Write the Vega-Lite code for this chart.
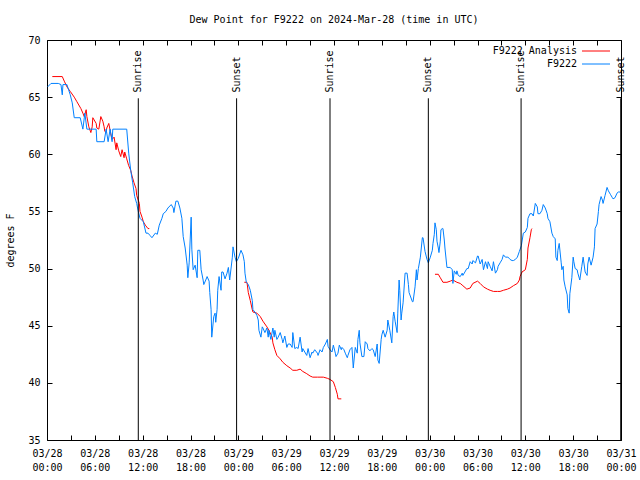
{
  "$schema": "https://vega.github.io/schema/vega-lite/v6.json",
  "width": 574,
  "height": 400,
  "autosize": "none",
  "padding": {"left": 47, "top": 40, "right": 19, "bottom": 40},
  "background": "white",
  "title": {"text": "Dew Point for F9222 on 2024-Mar-28 (time in UTC)", "font": "DejaVu Sans Mono", "fontSize": 10, "fontWeight": "normal", "color": "black", "offset": 10, "anchor": "middle"},
  "config": {
    "view": {"stroke": "black", "strokeWidth": 1},
    "axis": {"labelFont": "DejaVu Sans Mono", "labelFontSize": 10, "labelColor": "black", "titleFont": "DejaVu Sans Mono", "titleFontSize": 10, "titleFontWeight": "normal", "titleColor": "black", "grid": false, "domain": false, "tickColor": "black", "tickWidth": 1},
    "legend": {"labelFont": "DejaVu Sans Mono", "labelFontSize": 10, "labelColor": "black"}
  },
  "resolve": {"axis": {"x": "independent", "y": "independent"}},
  "datasets": {
    "blue": [
      {"t":"2024-03-28T00:05:00Z","v":65.9},{"t":"2024-03-28T00:30:00Z","v":66.2},{"t":"2024-03-28T01:25:00Z","v":66.2},{"t":"2024-03-28T01:45:00Z","v":66.1},{"t":"2024-03-28T01:55:00Z","v":65.2},{"t":"2024-03-28T02:00:00Z","v":66.1},{"t":"2024-03-28T02:30:00Z","v":66.1},{"t":"2024-03-28T02:55:00Z","v":65.2},{"t":"2024-03-28T03:10:00Z","v":64.5},{"t":"2024-03-28T03:25:00Z","v":63.2},{"t":"2024-03-28T04:10:00Z","v":63.2},{"t":"2024-03-28T04:30:00Z","v":62.2},{"t":"2024-03-28T04:45:00Z","v":63.6},{"t":"2024-03-28T05:00:00Z","v":62.2},{"t":"2024-03-28T06:10:00Z","v":62.2},{"t":"2024-03-28T06:15:00Z","v":61.1},{"t":"2024-03-28T07:10:00Z","v":61.1},{"t":"2024-03-28T07:25:00Z","v":62.2},{"t":"2024-03-28T07:40:00Z","v":61.1},{"t":"2024-03-28T07:55:00Z","v":62.2},{"t":"2024-03-28T08:10:00Z","v":61.1},{"t":"2024-03-28T08:15:00Z","v":62.2},{"t":"2024-03-28T10:00:00Z","v":62.2},{"t":"2024-03-28T10:15:00Z","v":60.1},{"t":"2024-03-28T10:30:00Z","v":58.6},{"t":"2024-03-28T10:45:00Z","v":57.5},{"t":"2024-03-28T11:00:00Z","v":56.3},{"t":"2024-03-28T11:15:00Z","v":55.7},{"t":"2024-03-28T11:25:00Z","v":55.1},{"t":"2024-03-28T11:40:00Z","v":54.4},{"t":"2024-03-28T12:05:00Z","v":54.1},{"t":"2024-03-28T12:25:00Z","v":53.1},{"t":"2024-03-28T12:40:00Z","v":53.1},{"t":"2024-03-28T12:55:00Z","v":52.9},{"t":"2024-03-28T13:10:00Z","v":52.7},{"t":"2024-03-28T13:35:00Z","v":53.1},{"t":"2024-03-28T13:50:00Z","v":53.0},{"t":"2024-03-28T14:05:00Z","v":53.8},{"t":"2024-03-28T14:25:00Z","v":54.4},{"t":"2024-03-28T14:35:00Z","v":54.8},{"t":"2024-03-28T14:55:00Z","v":55.0},{"t":"2024-03-28T15:10:00Z","v":55.3},{"t":"2024-03-28T15:35:00Z","v":55.6},{"t":"2024-03-28T15:50:00Z","v":55.3},{"t":"2024-03-28T15:55:00Z","v":54.9},{"t":"2024-03-28T16:10:00Z","v":55.9},{"t":"2024-03-28T16:25:00Z","v":55.9},{"t":"2024-03-28T16:40:00Z","v":55.3},{"t":"2024-03-28T16:55:00Z","v":54.4},{"t":"2024-03-28T17:05:00Z","v":52.8},{"t":"2024-03-28T17:20:00Z","v":51.8},{"t":"2024-03-28T17:35:00Z","v":50.3},{"t":"2024-03-28T17:40:00Z","v":49.2},{"t":"2024-03-28T17:50:00Z","v":50.5},{"t":"2024-03-28T18:05:00Z","v":54.5},{"t":"2024-03-28T18:10:00Z","v":51.7},{"t":"2024-03-28T18:20:00Z","v":49.9},{"t":"2024-03-28T18:35:00Z","v":50.3},{"t":"2024-03-28T18:50:00Z","v":49.2},{"t":"2024-03-28T18:55:00Z","v":51.6},{"t":"2024-03-28T19:10:00Z","v":51.6},{"t":"2024-03-28T19:20:00Z","v":49.9},{"t":"2024-03-28T19:35:00Z","v":49.0},{"t":"2024-03-28T19:40:00Z","v":48.6},{"t":"2024-03-28T19:55:00Z","v":49.0},{"t":"2024-03-28T20:05:00Z","v":49.3},{"t":"2024-03-28T20:20:00Z","v":48.9},{"t":"2024-03-28T20:25:00Z","v":47.9},{"t":"2024-03-28T20:35:00Z","v":46.4},{"t":"2024-03-28T20:40:00Z","v":44.0},{"t":"2024-03-28T20:55:00Z","v":45.8},{"t":"2024-03-28T21:05:00Z","v":46.1},{"t":"2024-03-28T21:10:00Z","v":45.3},{"t":"2024-03-28T21:20:00Z","v":46.4},{"t":"2024-03-28T21:25:00Z","v":48.1},{"t":"2024-03-28T21:35:00Z","v":49.3},{"t":"2024-03-28T21:50:00Z","v":48.1},{"t":"2024-03-28T21:55:00Z","v":49.7},{"t":"2024-03-28T22:05:00Z","v":49.7},{"t":"2024-03-28T22:20:00Z","v":49.1},{"t":"2024-03-28T22:35:00Z","v":49.6},{"t":"2024-03-28T22:45:00Z","v":50.1},{"t":"2024-03-28T22:55:00Z","v":49.0},{"t":"2024-03-28T23:15:00Z","v":51.0},{"t":"2024-03-28T23:20:00Z","v":51.9},{"t":"2024-03-28T23:35:00Z","v":51.0},{"t":"2024-03-28T23:45:00Z","v":50.6},
      {"t":"2024-03-29T00:00:00Z","v":50.9},{"t":"2024-03-29T00:20:00Z","v":51.6},{"t":"2024-03-29T00:35:00Z","v":51.2},{"t":"2024-03-29T00:45:00Z","v":50.6},{"t":"2024-03-29T00:50:00Z","v":49.6},{"t":"2024-03-29T01:00:00Z","v":48.8},{"t":"2024-03-29T01:15:00Z","v":48.6},{"t":"2024-03-29T01:30:00Z","v":48.1},{"t":"2024-03-29T01:45:00Z","v":47.2},{"t":"2024-03-29T01:50:00Z","v":46.4},{"t":"2024-03-29T02:05:00Z","v":46.2},{"t":"2024-03-29T02:20:00Z","v":45.9},{"t":"2024-03-29T02:30:00Z","v":45.5},{"t":"2024-03-29T02:35:00Z","v":44.6},{"t":"2024-03-29T02:50:00Z","v":44.0},{"t":"2024-03-29T03:00:00Z","v":44.9},{"t":"2024-03-29T03:05:00Z","v":44.8},{"t":"2024-03-29T03:20:00Z","v":44.4},{"t":"2024-03-29T03:35:00Z","v":44.8},{"t":"2024-03-29T03:45:00Z","v":44.0},{"t":"2024-03-29T03:50:00Z","v":44.6},{"t":"2024-03-29T04:05:00Z","v":43.8},{"t":"2024-03-29T04:20:00Z","v":44.8},{"t":"2024-03-29T04:30:00Z","v":44.0},{"t":"2024-03-29T04:35:00Z","v":44.6},{"t":"2024-03-29T04:50:00Z","v":43.8},{"t":"2024-03-29T05:00:00Z","v":44.0},{"t":"2024-03-29T05:15:00Z","v":44.4},{"t":"2024-03-29T05:30:00Z","v":43.8},{"t":"2024-03-29T05:35:00Z","v":43.5},{"t":"2024-03-29T05:50:00Z","v":44.1},{"t":"2024-03-29T06:05:00Z","v":43.1},{"t":"2024-03-29T06:15:00Z","v":43.4},{"t":"2024-03-29T06:30:00Z","v":43.4},{"t":"2024-03-29T06:45:00Z","v":43.1},{"t":"2024-03-29T06:50:00Z","v":44.4},{"t":"2024-03-29T07:05:00Z","v":43.0},{"t":"2024-03-29T07:20:00Z","v":43.1},{"t":"2024-03-29T07:30:00Z","v":43.0},{"t":"2024-03-29T07:45:00Z","v":44.0},{"t":"2024-03-29T08:00:00Z","v":42.7},{"t":"2024-03-29T08:05:00Z","v":43.0},{"t":"2024-03-29T08:20:00Z","v":42.7},{"t":"2024-03-29T08:35:00Z","v":42.4},{"t":"2024-03-29T08:45:00Z","v":43.0},{"t":"2024-03-29T09:00:00Z","v":42.2},{"t":"2024-03-29T09:15:00Z","v":42.7},{"t":"2024-03-29T09:20:00Z","v":42.6},{"t":"2024-03-29T09:35:00Z","v":42.9},{"t":"2024-03-29T09:55:00Z","v":42.6},{"t":"2024-03-29T10:00:00Z","v":42.4},{"t":"2024-03-29T10:15:00Z","v":42.9},{"t":"2024-03-29T10:30:00Z","v":42.7},{"t":"2024-03-29T10:40:00Z","v":43.1},{"t":"2024-03-29T10:55:00Z","v":43.4},{"t":"2024-03-29T11:10:00Z","v":43.8},{"t":"2024-03-29T11:15:00Z","v":43.2},{"t":"2024-03-29T11:30:00Z","v":42.9},{"t":"2024-03-29T11:45:00Z","v":42.7},{"t":"2024-03-29T11:55:00Z","v":43.3},{"t":"2024-03-29T12:10:00Z","v":42.6},{"t":"2024-03-29T12:15:00Z","v":42.3},{"t":"2024-03-29T12:30:00Z","v":42.6},{"t":"2024-03-29T12:40:00Z","v":43.3},{"t":"2024-03-29T12:55:00Z","v":42.9},{"t":"2024-03-29T13:00:00Z","v":43.1},{"t":"2024-03-29T13:15:00Z","v":42.9},{"t":"2024-03-29T13:25:00Z","v":42.6},{"t":"2024-03-29T13:40:00Z","v":42.2},{"t":"2024-03-29T13:45:00Z","v":42.4},{"t":"2024-03-29T14:00:00Z","v":42.9},{"t":"2024-03-29T14:15:00Z","v":43.1},{"t":"2024-03-29T14:25:00Z","v":41.3},{"t":"2024-03-29T14:40:00Z","v":43.1},{"t":"2024-03-29T14:55:00Z","v":42.6},{"t":"2024-03-29T15:00:00Z","v":43.8},{"t":"2024-03-29T15:10:00Z","v":44.6},{"t":"2024-03-29T15:15:00Z","v":43.5},{"t":"2024-03-29T15:30:00Z","v":42.3},{"t":"2024-03-29T15:45:00Z","v":42.3},{"t":"2024-03-29T15:55:00Z","v":43.6},{"t":"2024-03-29T16:10:00Z","v":43.4},{"t":"2024-03-29T16:15:00Z","v":43.0},{"t":"2024-03-29T16:30:00Z","v":42.8},{"t":"2024-03-29T16:45:00Z","v":43.0},{"t":"2024-03-29T16:55:00Z","v":42.9},{"t":"2024-03-29T17:10:00Z","v":42.3},{"t":"2024-03-29T17:25:00Z","v":43.4},{"t":"2024-03-29T17:30:00Z","v":42.0},{"t":"2024-03-29T17:40:00Z","v":41.7},{"t":"2024-03-29T17:55:00Z","v":43.8},{"t":"2024-03-29T18:00:00Z","v":44.2},{"t":"2024-03-29T18:10:00Z","v":44.6},{"t":"2024-03-29T18:25:00Z","v":44.0},{"t":"2024-03-29T18:40:00Z","v":44.6},{"t":"2024-03-29T18:45:00Z","v":45.5},{"t":"2024-03-29T19:00:00Z","v":44.6},{"t":"2024-03-29T19:15:00Z","v":43.5},{"t":"2024-03-29T19:25:00Z","v":45.8},{"t":"2024-03-29T19:30:00Z","v":46.2},{"t":"2024-03-29T19:40:00Z","v":45.4},{"t":"2024-03-29T19:55:00Z","v":44.4},{"t":"2024-03-29T20:00:00Z","v":46.1},{"t":"2024-03-29T20:10:00Z","v":49.0},{"t":"2024-03-29T20:15:00Z","v":48.1},{"t":"2024-03-29T20:25:00Z","v":45.5},{"t":"2024-03-29T20:30:00Z","v":46.1},{"t":"2024-03-29T20:40:00Z","v":47.0},{"t":"2024-03-29T20:55:00Z","v":49.6},{"t":"2024-03-29T21:10:00Z","v":49.6},{"t":"2024-03-29T21:20:00Z","v":48.6},{"t":"2024-03-29T21:25:00Z","v":47.9},{"t":"2024-03-29T21:50:00Z","v":47.1},{"t":"2024-03-29T21:55:00Z","v":47.1},{"t":"2024-03-29T22:10:00Z","v":48.4},{"t":"2024-03-29T22:20:00Z","v":49.9},{"t":"2024-03-29T22:25:00Z","v":49.0},{"t":"2024-03-29T22:35:00Z","v":50.0},{"t":"2024-03-29T22:50:00Z","v":51.0},{"t":"2024-03-29T23:05:00Z","v":52.7},{"t":"2024-03-29T23:10:00Z","v":52.7},{"t":"2024-03-29T23:25:00Z","v":51.5},{"t":"2024-03-29T23:40:00Z","v":50.8},{"t":"2024-03-29T23:50:00Z","v":50.5},
      {"t":"2024-03-30T00:05:00Z","v":51.0},{"t":"2024-03-30T00:20:00Z","v":51.6},{"t":"2024-03-30T00:25:00Z","v":52.2},{"t":"2024-03-30T00:35:00Z","v":53.0},{"t":"2024-03-30T00:40:00Z","v":54.0},{"t":"2024-03-30T00:50:00Z","v":53.4},{"t":"2024-03-30T00:55:00Z","v":52.4},{"t":"2024-03-30T01:05:00Z","v":51.8},{"t":"2024-03-30T01:10:00Z","v":51.4},{"t":"2024-03-30T01:20:00Z","v":52.4},{"t":"2024-03-30T01:25:00Z","v":53.4},{"t":"2024-03-30T01:35:00Z","v":53.5},{"t":"2024-03-30T01:40:00Z","v":53.5},{"t":"2024-03-30T01:50:00Z","v":52.5},{"t":"2024-03-30T01:55:00Z","v":51.8},{"t":"2024-03-30T02:10:00Z","v":50.1},{"t":"2024-03-30T02:35:00Z","v":50.1},{"t":"2024-03-30T02:50:00Z","v":49.9},{"t":"2024-03-30T02:55:00Z","v":48.7},{"t":"2024-03-30T03:05:00Z","v":49.8},{"t":"2024-03-30T03:20:00Z","v":49.5},{"t":"2024-03-30T03:25:00Z","v":49.8},{"t":"2024-03-30T03:35:00Z","v":49.4},{"t":"2024-03-30T03:50:00Z","v":49.3},{"t":"2024-03-30T04:05:00Z","v":49.6},{"t":"2024-03-30T04:10:00Z","v":49.4},{"t":"2024-03-30T04:25:00Z","v":49.7},{"t":"2024-03-30T04:40:00Z","v":50.0},{"t":"2024-03-30T04:50:00Z","v":50.0},{"t":"2024-03-30T05:05:00Z","v":50.6},{"t":"2024-03-30T05:20:00Z","v":50.4},{"t":"2024-03-30T05:25:00Z","v":50.7},{"t":"2024-03-30T05:45:00Z","v":50.5},{"t":"2024-03-30T06:00:00Z","v":51.1},{"t":"2024-03-30T06:05:00Z","v":51.1},{"t":"2024-03-30T06:20:00Z","v":50.4},{"t":"2024-03-30T06:35:00Z","v":50.8},{"t":"2024-03-30T06:45:00Z","v":49.9},{"t":"2024-03-30T07:00:00Z","v":50.6},{"t":"2024-03-30T07:15:00Z","v":50.0},{"t":"2024-03-30T07:20:00Z","v":50.6},{"t":"2024-03-30T07:35:00Z","v":50.2},{"t":"2024-03-30T07:50:00Z","v":49.8},{"t":"2024-03-30T08:00:00Z","v":50.6},{"t":"2024-03-30T08:15:00Z","v":49.6},{"t":"2024-03-30T08:30:00Z","v":49.9},{"t":"2024-03-30T08:35:00Z","v":50.2},{"t":"2024-03-30T08:50:00Z","v":50.5},{"t":"2024-03-30T09:05:00Z","v":50.8},{"t":"2024-03-30T09:15:00Z","v":51.2},{"t":"2024-03-30T09:30:00Z","v":51.0},{"t":"2024-03-30T09:45:00Z","v":51.0},{"t":"2024-03-30T09:50:00Z","v":51.0},{"t":"2024-03-30T10:05:00Z","v":50.8},{"t":"2024-03-30T10:20:00Z","v":50.7},{"t":"2024-03-30T10:30:00Z","v":50.7},{"t":"2024-03-30T10:45:00Z","v":50.8},{"t":"2024-03-30T11:00:00Z","v":51.0},{"t":"2024-03-30T11:15:00Z","v":51.5},{"t":"2024-03-30T11:30:00Z","v":52.0},{"t":"2024-03-30T11:45:00Z","v":53.1},{"t":"2024-03-30T12:00:00Z","v":53.2},{"t":"2024-03-30T12:15:00Z","v":53.6},{"t":"2024-03-30T12:20:00Z","v":54.4},{"t":"2024-03-30T12:35:00Z","v":54.8},{"t":"2024-03-30T12:50:00Z","v":54.8},{"t":"2024-03-30T13:00:00Z","v":54.6},{"t":"2024-03-30T13:15:00Z","v":55.7},{"t":"2024-03-30T13:30:00Z","v":55.4},{"t":"2024-03-30T13:35:00Z","v":54.8},{"t":"2024-03-30T13:50:00Z","v":54.8},{"t":"2024-03-30T14:05:00Z","v":55.1},{"t":"2024-03-30T14:15:00Z","v":55.6},{"t":"2024-03-30T14:30:00Z","v":55.3},{"t":"2024-03-30T14:45:00Z","v":54.8},{"t":"2024-03-30T14:50:00Z","v":54.4},{"t":"2024-03-30T15:05:00Z","v":54.1},{"t":"2024-03-30T15:20:00Z","v":53.1},{"t":"2024-03-30T15:30:00Z","v":52.8},{"t":"2024-03-30T15:45:00Z","v":52.6},{"t":"2024-03-30T15:50:00Z","v":51.0},{"t":"2024-03-30T16:00:00Z","v":50.7},{"t":"2024-03-30T16:05:00Z","v":51.6},{"t":"2024-03-30T16:15:00Z","v":52.2},{"t":"2024-03-30T16:30:00Z","v":50.5},{"t":"2024-03-30T16:35:00Z","v":49.9},{"t":"2024-03-30T16:45:00Z","v":50.2},{"t":"2024-03-30T16:50:00Z","v":49.0},{"t":"2024-03-30T17:00:00Z","v":48.4},{"t":"2024-03-30T17:15:00Z","v":47.7},{"t":"2024-03-30T17:20:00Z","v":46.5},{"t":"2024-03-30T17:30:00Z","v":46.1},{"t":"2024-03-30T17:35:00Z","v":47.8},{"t":"2024-03-30T17:50:00Z","v":49.2},{"t":"2024-03-30T18:00:00Z","v":51.0},{"t":"2024-03-30T18:05:00Z","v":50.6},{"t":"2024-03-30T18:15:00Z","v":50.0},{"t":"2024-03-30T18:30:00Z","v":49.9},{"t":"2024-03-30T18:35:00Z","v":49.6},{"t":"2024-03-30T18:50:00Z","v":49.0},{"t":"2024-03-30T19:05:00Z","v":50.2},{"t":"2024-03-30T19:15:00Z","v":51.0},{"t":"2024-03-30T19:30:00Z","v":49.7},{"t":"2024-03-30T19:45:00Z","v":49.4},{"t":"2024-03-30T19:50:00Z","v":50.4},{"t":"2024-03-30T20:00:00Z","v":51.0},{"t":"2024-03-30T20:15:00Z","v":50.3},{"t":"2024-03-30T20:30:00Z","v":51.0},{"t":"2024-03-30T20:40:00Z","v":51.9},{"t":"2024-03-30T20:45:00Z","v":53.5},{"t":"2024-03-30T21:00:00Z","v":53.9},{"t":"2024-03-30T21:10:00Z","v":55.0},{"t":"2024-03-30T21:15:00Z","v":55.6},{"t":"2024-03-30T21:30:00Z","v":56.3},{"t":"2024-03-30T21:40:00Z","v":56.0},{"t":"2024-03-30T21:45:00Z","v":55.7},{"t":"2024-03-30T22:00:00Z","v":56.4},{"t":"2024-03-30T22:15:00Z","v":57.1},{"t":"2024-03-30T22:25:00Z","v":56.8},{"t":"2024-03-30T22:40:00Z","v":56.5},{"t":"2024-03-30T22:55:00Z","v":56.2},{"t":"2024-03-30T23:00:00Z","v":56.1},{"t":"2024-03-30T23:15:00Z","v":56.2},{"t":"2024-03-30T23:30:00Z","v":56.6},{"t":"2024-03-30T23:40:00Z","v":56.7},{"t":"2024-03-30T23:55:00Z","v":56.7}
    ],
    "red": [
      {"g":1,"t":"2024-03-28T00:40:00Z","v":66.8},{"g":1,"t":"2024-03-28T01:55:00Z","v":66.8},{"g":1,"t":"2024-03-28T02:10:00Z","v":66.4},{"g":1,"t":"2024-03-28T02:30:00Z","v":65.9},{"g":1,"t":"2024-03-28T02:55:00Z","v":65.5},{"g":1,"t":"2024-03-28T03:25:00Z","v":65.0},{"g":1,"t":"2024-03-28T03:45:00Z","v":64.6},{"g":1,"t":"2024-03-28T04:15:00Z","v":64.0},{"g":1,"t":"2024-03-28T04:30:00Z","v":63.6},{"g":1,"t":"2024-03-28T04:40:00Z","v":63.3},{"g":1,"t":"2024-03-28T04:55:00Z","v":63.9},{"g":1,"t":"2024-03-28T05:00:00Z","v":63.3},{"g":1,"t":"2024-03-28T05:15:00Z","v":62.4},{"g":1,"t":"2024-03-28T05:30:00Z","v":61.9},{"g":1,"t":"2024-03-28T05:40:00Z","v":62.4},{"g":1,"t":"2024-03-28T05:45:00Z","v":63.2},{"g":1,"t":"2024-03-28T06:10:00Z","v":62.7},{"g":1,"t":"2024-03-28T06:15:00Z","v":62.3},{"g":1,"t":"2024-03-28T06:30:00Z","v":62.2},{"g":1,"t":"2024-03-28T06:45:00Z","v":63.3},{"g":1,"t":"2024-03-28T07:00:00Z","v":62.9},{"g":1,"t":"2024-03-28T07:10:00Z","v":62.4},{"g":1,"t":"2024-03-28T07:15:00Z","v":62.0},{"g":1,"t":"2024-03-28T07:25:00Z","v":61.9},{"g":1,"t":"2024-03-28T07:30:00Z","v":62.3},{"g":1,"t":"2024-03-28T07:45:00Z","v":62.7},{"g":1,"t":"2024-03-28T08:00:00Z","v":61.8},{"g":1,"t":"2024-03-28T08:10:00Z","v":61.3},{"g":1,"t":"2024-03-28T08:25:00Z","v":61.5},{"g":1,"t":"2024-03-28T08:40:00Z","v":60.4},{"g":1,"t":"2024-03-28T08:45:00Z","v":61.0},{"g":1,"t":"2024-03-28T09:00:00Z","v":60.3},{"g":1,"t":"2024-03-28T09:15:00Z","v":59.8},{"g":1,"t":"2024-03-28T09:25:00Z","v":60.4},{"g":1,"t":"2024-03-28T09:40:00Z","v":59.7},{"g":1,"t":"2024-03-28T09:45:00Z","v":60.2},{"g":1,"t":"2024-03-28T10:00:00Z","v":59.6},{"g":1,"t":"2024-03-28T10:15:00Z","v":59.0},{"g":1,"t":"2024-03-28T10:30:00Z","v":58.6},{"g":1,"t":"2024-03-28T10:40:00Z","v":58.1},{"g":1,"t":"2024-03-28T10:55:00Z","v":57.5},{"g":1,"t":"2024-03-28T11:10:00Z","v":57.0},{"g":1,"t":"2024-03-28T11:15:00Z","v":56.4},{"g":1,"t":"2024-03-28T11:35:00Z","v":55.7},{"g":1,"t":"2024-03-28T11:40:00Z","v":55.0},{"g":1,"t":"2024-03-28T11:55:00Z","v":54.5},{"g":1,"t":"2024-03-28T12:05:00Z","v":54.1},{"g":1,"t":"2024-03-28T12:20:00Z","v":53.8},{"g":1,"t":"2024-03-28T12:40:00Z","v":53.5},{"g":1,"t":"2024-03-28T12:50:00Z","v":53.5},
      {"g":2,"t":"2024-03-29T00:45:00Z","v":48.8},{"g":2,"t":"2024-03-29T01:05:00Z","v":48.8},{"g":2,"t":"2024-03-29T01:15:00Z","v":47.9},{"g":2,"t":"2024-03-29T01:30:00Z","v":47.2},{"g":2,"t":"2024-03-29T01:45:00Z","v":46.4},{"g":2,"t":"2024-03-29T01:50:00Z","v":46.2},{"g":2,"t":"2024-03-29T02:20:00Z","v":46.1},{"g":2,"t":"2024-03-29T02:45:00Z","v":45.8},{"g":2,"t":"2024-03-29T03:05:00Z","v":45.4},{"g":2,"t":"2024-03-29T03:35:00Z","v":44.9},{"g":2,"t":"2024-03-29T03:50:00Z","v":44.6},{"g":2,"t":"2024-03-29T04:15:00Z","v":44.0},{"g":2,"t":"2024-03-29T04:20:00Z","v":43.5},{"g":2,"t":"2024-03-29T04:35:00Z","v":42.9},{"g":2,"t":"2024-03-29T04:50:00Z","v":42.4},{"g":2,"t":"2024-03-29T05:15:00Z","v":42.1},{"g":2,"t":"2024-03-29T05:35:00Z","v":41.8},{"g":2,"t":"2024-03-29T06:05:00Z","v":41.5},{"g":2,"t":"2024-03-29T06:30:00Z","v":41.3},{"g":2,"t":"2024-03-29T06:50:00Z","v":41.1},{"g":2,"t":"2024-03-29T07:20:00Z","v":41.1},{"g":2,"t":"2024-03-29T07:45:00Z","v":41.2},{"g":2,"t":"2024-03-29T08:05:00Z","v":41.0},{"g":2,"t":"2024-03-29T08:35:00Z","v":40.8},{"g":2,"t":"2024-03-29T09:00:00Z","v":40.6},{"g":2,"t":"2024-03-29T09:20:00Z","v":40.5},{"g":2,"t":"2024-03-29T09:55:00Z","v":40.5},{"g":2,"t":"2024-03-29T10:15:00Z","v":40.5},{"g":2,"t":"2024-03-29T10:40:00Z","v":40.5},{"g":2,"t":"2024-03-29T11:10:00Z","v":40.4},{"g":2,"t":"2024-03-29T11:30:00Z","v":40.3},{"g":2,"t":"2024-03-29T11:55:00Z","v":40.1},{"g":2,"t":"2024-03-29T12:10:00Z","v":39.6},{"g":2,"t":"2024-03-29T12:25:00Z","v":39.0},{"g":2,"t":"2024-03-29T12:30:00Z","v":38.6},{"g":2,"t":"2024-03-29T12:55:00Z","v":38.6},
      {"g":3,"t":"2024-03-30T00:40:00Z","v":49.5},{"g":3,"t":"2024-03-30T01:05:00Z","v":49.5},{"g":3,"t":"2024-03-30T01:20:00Z","v":49.2},{"g":3,"t":"2024-03-30T01:40:00Z","v":48.8},{"g":3,"t":"2024-03-30T02:10:00Z","v":48.8},{"g":3,"t":"2024-03-30T02:35:00Z","v":48.9},{"g":3,"t":"2024-03-30T02:55:00Z","v":49.0},{"g":3,"t":"2024-03-30T03:25:00Z","v":48.8},{"g":3,"t":"2024-03-30T03:50:00Z","v":48.7},{"g":3,"t":"2024-03-30T04:10:00Z","v":48.5},{"g":3,"t":"2024-03-30T04:40:00Z","v":48.2},{"g":3,"t":"2024-03-30T05:05:00Z","v":48.3},{"g":3,"t":"2024-03-30T05:25:00Z","v":48.7},{"g":3,"t":"2024-03-30T06:00:00Z","v":48.9},{"g":3,"t":"2024-03-30T06:20:00Z","v":48.7},{"g":3,"t":"2024-03-30T06:45:00Z","v":48.4},{"g":3,"t":"2024-03-30T07:15:00Z","v":48.2},{"g":3,"t":"2024-03-30T07:35:00Z","v":48.1},{"g":3,"t":"2024-03-30T08:00:00Z","v":48.0},{"g":3,"t":"2024-03-30T08:30:00Z","v":48.0},{"g":3,"t":"2024-03-30T08:50:00Z","v":48.0},{"g":3,"t":"2024-03-30T09:15:00Z","v":48.1},{"g":3,"t":"2024-03-30T09:45:00Z","v":48.2},{"g":3,"t":"2024-03-30T10:05:00Z","v":48.3},{"g":3,"t":"2024-03-30T10:30:00Z","v":48.5},{"g":3,"t":"2024-03-30T11:00:00Z","v":48.7},{"g":3,"t":"2024-03-30T11:15:00Z","v":49.0},{"g":3,"t":"2024-03-30T11:20:00Z","v":49.3},{"g":3,"t":"2024-03-30T11:35:00Z","v":49.7},{"g":3,"t":"2024-03-30T12:00:00Z","v":49.9},{"g":3,"t":"2024-03-30T12:15:00Z","v":50.8},{"g":3,"t":"2024-03-30T12:20:00Z","v":51.8},{"g":3,"t":"2024-03-30T12:35:00Z","v":52.7},{"g":3,"t":"2024-03-30T12:45:00Z","v":53.4},{"g":3,"t":"2024-03-30T12:50:00Z","v":53.5}
    ],
    "sun": [
      {"t":"2024-03-28T11:27:00Z","e":"Sunrise"},{"t":"2024-03-28T23:47:00Z","e":"Sunset"},{"t":"2024-03-29T11:30:00Z","e":"Sunrise"},{"t":"2024-03-29T23:50:00Z","e":"Sunset"},{"t":"2024-03-30T11:28:00Z","e":"Sunrise"},{"t":"2024-03-30T23:58:00Z","e":"Sunset"}
    ]
  },
  "layer": [
    {
      "data": {"name": "red"},
      "mark": {"type": "line", "strokeWidth": 1},
      "encoding": {
        "x": {"field": "t", "type": "temporal",
          "scale": {"type": "utc", "domain": [1711584000000, 1711843200000]},
          "axis": {"orient": "bottom", "title": null, "tickCount": 24, "tickSize": 5, "offset": -5, "labelPadding": 8, "labelOverlap": false, "labelFlush": false, "labelBound": false, "labelLineHeight": 14,
            "labelExpr": "utchours(datum.value) % 6 == 0 ? [utcFormat(datum.value, '%m/%d'), utcFormat(datum.value, '%H:%M')] : ''"}},
        "y": {"field": "v", "type": "quantitative",
          "scale": {"domain": [35, 70], "zero": false, "nice": false},
          "axis": {"orient": "left", "title": "degrees F", "values": [35, 40, 45, 50, 55, 60, 65, 70], "tickSize": 5, "offset": -5, "labelPadding": 7, "titlePadding": 12}},
        "color": {"datum": "F9222 Analysis", "type": "nominal",
          "scale": {"domain": ["F9222 Analysis", "F9222"], "range": ["#ff0000", "#0080ff"]},
          "legend": {"title": null, "orient": "none", "legendX": 544, "legendY": 6, "symbolType": "M-4,0L4,0", "symbolSize": 49, "symbolStrokeWidth": 1, "symbolFillColor": "transparent", "rowPadding": 3, "labelAlign": "right", "labelOffset": -24}},
        "detail": {"field": "g"}
      }
    },
    {
      "data": {"name": "blue"},
      "mark": {"type": "line", "strokeWidth": 1},
      "encoding": {
        "x": {"field": "t", "type": "temporal",
          "axis": {"orient": "top", "title": null, "labels": false, "tickCount": 24, "tickSize": 5, "offset": -5}},
        "y": {"field": "v", "type": "quantitative",
          "axis": {"orient": "right", "title": null, "labels": false, "values": [35, 40, 45, 50, 55, 60, 65, 70], "tickSize": 5, "offset": -5}},
        "color": {"datum": "F9222", "type": "nominal"}
      }
    },
    {
      "data": {"name": "sun"},
      "mark": {"type": "rule", "color": "black", "strokeWidth": 1},
      "encoding": {
        "x": {"field": "t", "type": "temporal", "axis": null},
        "y": {"datum": 35, "axis": null},
        "y2": {"datum": 64.9}
      }
    },
    {
      "data": {"name": "sun"},
      "mark": {"type": "text", "angle": 270, "align": "left", "baseline": "middle", "font": "DejaVu Sans Mono", "fontSize": 10, "color": "black"},
      "encoding": {
        "x": {"field": "t", "type": "temporal", "axis": null},
        "y": {"datum": 65.4, "axis": null},
        "text": {"field": "e"}
      }
    }
  ]
}
